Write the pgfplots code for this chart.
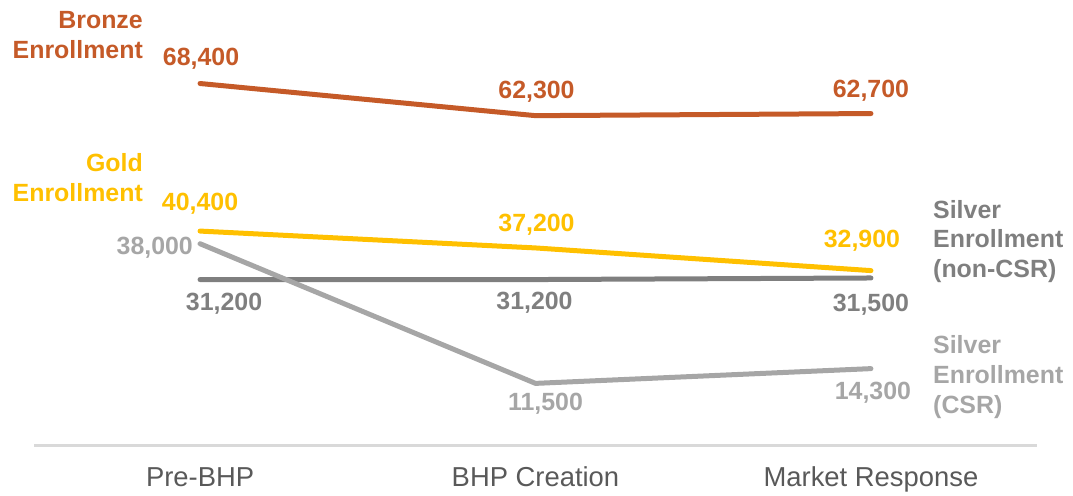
\documentclass[border=0pt]{standalone}
\usepackage{pgfplots}
\pgfplotsset{compat=1.18}
\usepackage{fontspec}
\setmainfont{Liberation Sans}

\definecolor{bronze}{HTML}{C55A28}
\definecolor{gold}{HTML}{FFC000}
\definecolor{silverdark}{HTML}{7F7F7F}
\definecolor{silverlight}{HTML}{A6A6A6}
\definecolor{rulegray}{HTML}{D9D9D9}
\definecolor{ticktext}{HTML}{595959}

\newcommand{\lbl}{\fontsize{25}{30}\selectfont\bfseries}

\begin{document}
\begin{tikzpicture}[x=1bp,y=1bp]
\useasboundingbox (-34,-50) rectangle (1039,446);
\begin{axis}[
  at={(0,0)}, anchor=south west,
  scale only axis, width=1003bp, height=444.7bp,
  xmin=-0.495, xmax=2.495, ymin=-380, ymax=84000,
  axis x line*=bottom, axis y line=none,
  x axis line style={rulegray, line width=3bp, -},
  xtick={0,1,2},
  xticklabels={Pre-BHP, BHP Creation, Market Response},
  major tick length=0pt,
  xticklabel style={font=\fontsize{27.5}{33}\selectfont, text=ticktext, anchor=base, yshift=-41bp},
  ytick=\empty,
  clip=false,
  every axis plot/.append style={line width=5bp, line cap=round, line join=round, mark=none},
]
% Silver (non-CSR)
\addplot[silverdark] coordinates {(0,31200) (1,31200) (2,31500)};
% Silver (CSR)
\addplot[silverlight] coordinates {(0,38000) (1,11500) (2,14300)};
% Gold
\addplot[gold] coordinates {(0,40400) (1,37200) (2,32900)};
% Bronze
\addplot[bronze] coordinates {(0,68400) (1,62300) (2,62700)};

% value labels
\begin{scope}[every node/.style={font=\lbl, inner sep=0pt}]
\node[text=bronze] at (axis cs:0,68400) [xshift=1bp, yshift=25bp] {68,400};
\node[text=bronze] at (axis cs:1,62300) [xshift=1bp, yshift=24bp] {62,300};
\node[text=bronze] at (axis cs:2,62700) [yshift=23bp] {62,700};
\node[text=gold] at (axis cs:0,40400) [yshift=27.5bp] {40,400};
\node[text=gold] at (axis cs:1,37200) [xshift=1bp, yshift=23bp] {37,200};
\node[text=gold] at (axis cs:2,32900) [xshift=-9bp, yshift=30bp] {32,900};
\node[text=silverdark] at (axis cs:0,31200) [xshift=24bp, yshift=-24bp] {31,200};
\node[text=silverdark] at (axis cs:1,31200) [xshift=-1bp, yshift=-23bp] {31,200};
\node[text=silverdark] at (axis cs:2,31500) [yshift=-27bp] {31,500};
\node[text=silverlight, anchor=east] at (axis cs:0,38000) [xshift=-7bp, yshift=-4bp] {38,000};
\node[text=silverlight] at (axis cs:1,11500) [xshift=10bp, yshift=-20bp] {11,500};
\node[text=silverlight] at (axis cs:2,14300) [xshift=2bp, yshift=-24.5bp] {14,300};
\end{scope}
\end{axis}

% series names
\begin{scope}[every node/.style={font=\lbl, inner sep=0pt}]
\node[text=bronze, align=right, anchor=east] at (109,411) {Bronze\\Enrollment};
\node[text=gold, align=right, anchor=east] at (109,268) {Gold\\Enrollment};
\node[text=silverdark, align=left, anchor=west] at (899,204.5) {Silver\\Enrollment\\(non-CSR)};
\node[text=silverlight, align=left, anchor=west] at (899,69) {Silver\\Enrollment\\(CSR)};
\end{scope}
\end{tikzpicture}
\end{document}
